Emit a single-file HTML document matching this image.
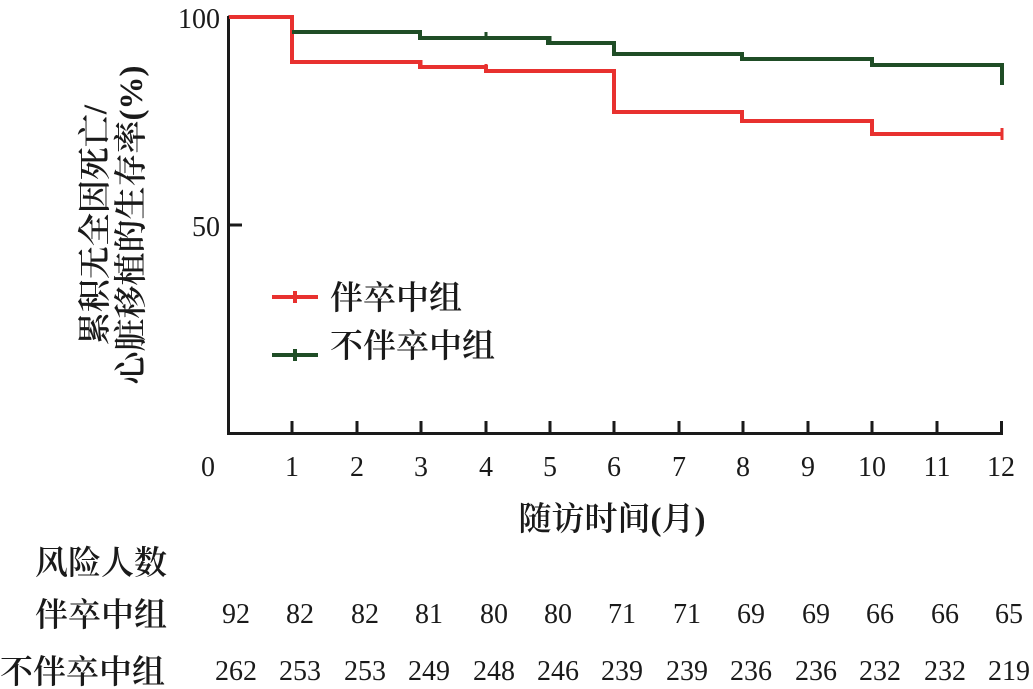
<!DOCTYPE html>
<html><head><meta charset="utf-8"><style>
body{margin:0;background:#fff}
svg{display:block}
text{font-family:"Liberation Serif","Noto Serif CJK SC",serif;font-size:28px;fill:#1a1a1a}
.c{font-family:"Liberation Serif","Noto Serif CJK SC","Noto Sans CJK SC",serif;font-size:33px;font-weight:600}
</style></head><body>
<svg width="1033" height="689" viewBox="0 0 1033 689" xmlns="http://www.w3.org/2000/svg">
<g stroke="#1a1a1a" stroke-width="3" fill="none">
<path d="M228.5 16 V433.5 H1003"/>
<path d="M228 17 H242 M228 225 H242"/>
<path d="M292 433 V421 M357 433 V421 M421 433 V421 M486 433 V421 M550 433 V421 M614 433 V421 M679 433 V421 M743 433 V421 M808 433 V421 M872 433 V421 M937 433 V421 M1001.5 433 V421"/>
</g>
<path d="M229 17 H292 V62 H420 V67 H486 V71 H614 V112 H742 V121 H872 V134 H1002" stroke="#e8312f" stroke-width="4" fill="none"/>
<path d="M292 32 H420 V38 H548 V43 H614 V54 H742 V59 H872 V65 H1002 V85" stroke="#1f4d26" stroke-width="4" fill="none"/>
<g stroke="#e8312f" stroke-width="3"><path d="M421 60 V68 M486 64 V72 M1002 128 V140"/></g>
<g stroke="#1f4d26" stroke-width="3"><path d="M486 32 V40 M550 36 V44 M742 52 V60"/></g>
<text x="220" y="28" text-anchor="end">100</text>
<text x="220" y="236" text-anchor="end">50</text>
<g text-anchor="middle">
<text x="208" y="476">0</text><text x="292" y="476">1</text><text x="357" y="476">2</text><text x="421" y="476">3</text><text x="486" y="476">4</text><text x="550" y="476">5</text><text x="614" y="476">6</text><text x="679" y="476">7</text><text x="743" y="476">8</text><text x="808" y="476">9</text><text x="872" y="476">10</text><text x="937" y="476">11</text><text x="1001" y="476">12</text>
</g>
<text class="c" x="612" y="530" text-anchor="middle">随访时间(月)</text>
<g transform="translate(106,225) rotate(-90)"><text class="c" x="0" y="0" text-anchor="middle">累积无全因死亡/</text></g>
<g transform="translate(142,225) rotate(-90)"><text class="c" x="0" y="0" text-anchor="middle">心脏移植的生存率(%)</text></g>
<path d="M272 297 H318 M295 291 V303" stroke="#e8312f" stroke-width="4"/>
<text class="c" x="330" y="309">伴卒中组</text>
<path d="M272 355 H318 M295 349 V361" stroke="#1f4d26" stroke-width="4"/>
<text class="c" x="330" y="357">不伴卒中组</text>
<text class="c" x="35" y="574">风险人数</text>
<text class="c" x="35" y="626">伴卒中组</text>
<text class="c" x="0" y="683">不伴卒中组</text>
<g text-anchor="middle">
<text x="236" y="623">92</text><text x="300" y="623">82</text><text x="365" y="623">82</text><text x="429" y="623">81</text><text x="494" y="623">80</text><text x="558" y="623">80</text><text x="622" y="623">71</text><text x="687" y="623">71</text><text x="751" y="623">69</text><text x="816" y="623">69</text><text x="880" y="623">66</text><text x="945" y="623">66</text><text x="1009" y="623">65</text>
<text x="236" y="680">262</text><text x="300" y="680">253</text><text x="365" y="680">253</text><text x="429" y="680">249</text><text x="494" y="680">248</text><text x="558" y="680">246</text><text x="622" y="680">239</text><text x="687" y="680">239</text><text x="751" y="680">236</text><text x="816" y="680">236</text><text x="880" y="680">232</text><text x="945" y="680">232</text><text x="1009" y="680">219</text>
</g>
</svg>
</body></html>
